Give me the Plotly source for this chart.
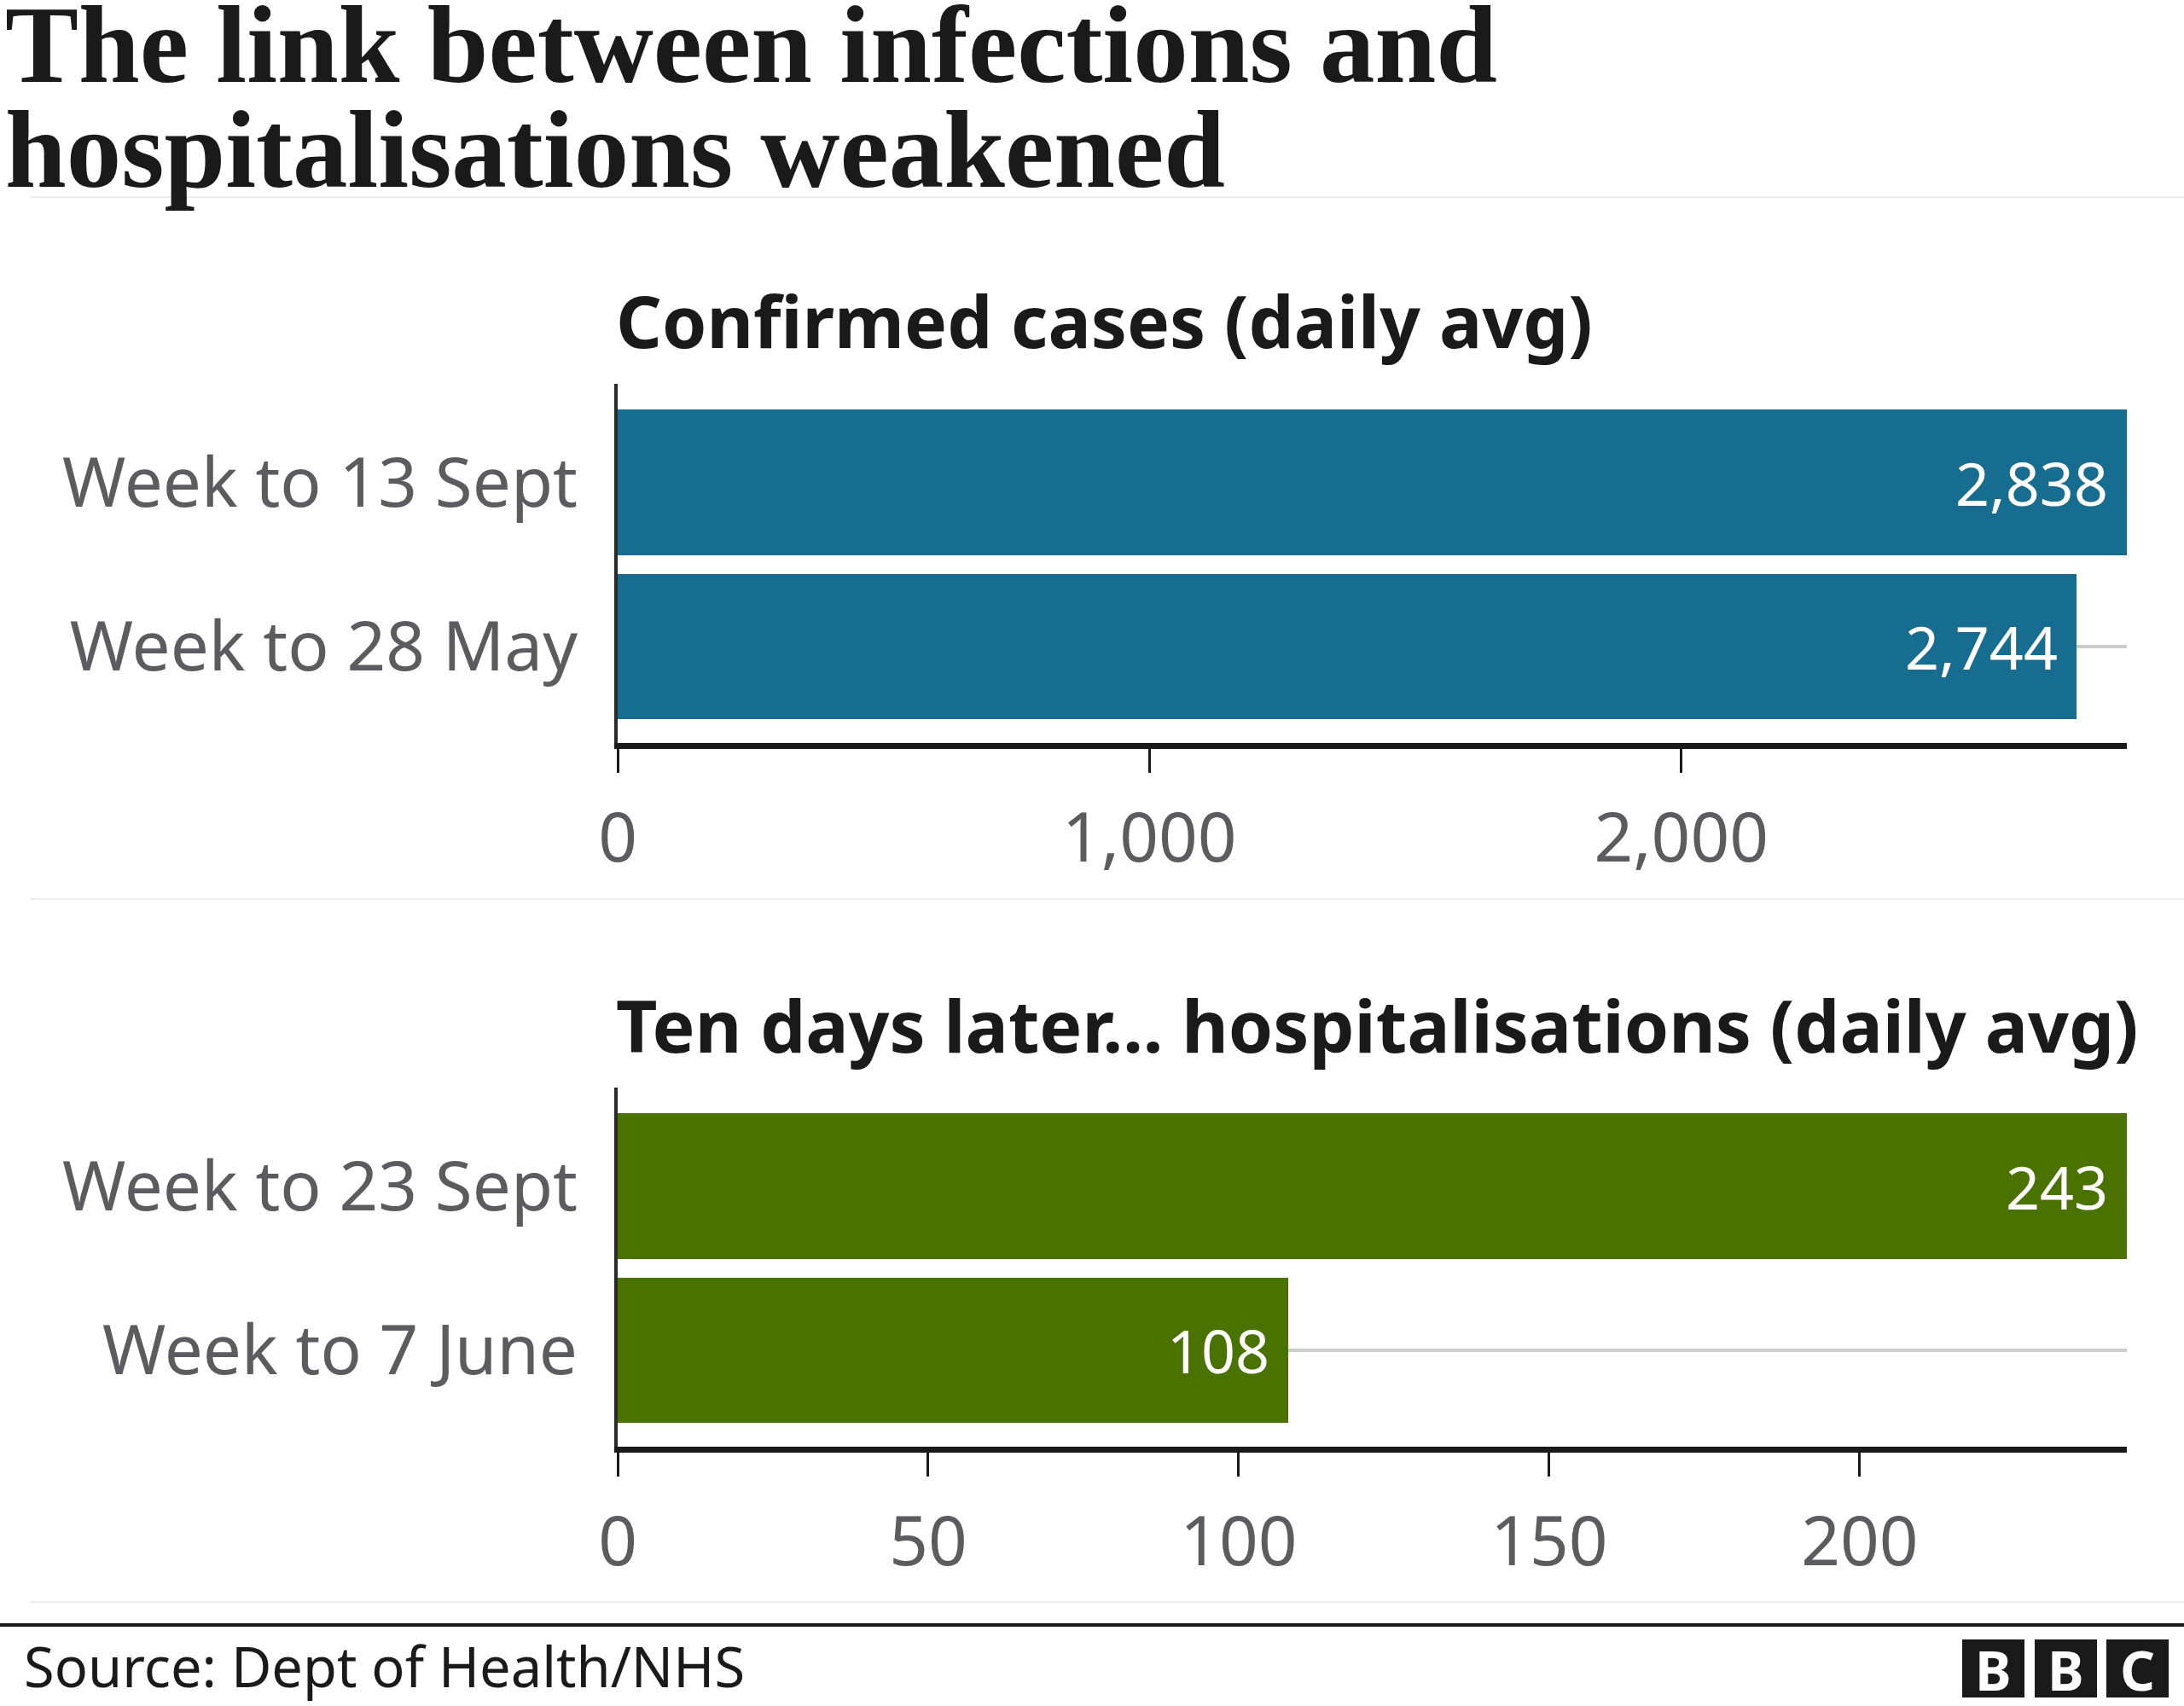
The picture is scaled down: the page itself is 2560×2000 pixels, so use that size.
import plotly.graph_objects as go

W, H = 2560, 2000

# ---------------- data ----------------
title_lines = ["The link between infections and", "hospitalisations weakened"]
source_text = "Source: Dept of Health/NHS"

cases_title = "Confirmed cases (daily avg)"
cases_labels = ["Week to 13 Sept", "Week to 28 May"]
cases_values = [2838, 2744]
cases_ticks = [0, 1000, 2000]

hosp_title = "Ten days later... hospitalisations (daily avg)"
hosp_labels = ["Week to 23 Sept", "Week to 7 June"]
hosp_values = [243, 108]
hosp_ticks = [0, 50, 100, 150, 200]

BLUE = "#176d8f"
GREEN = "#497200"
DARK = "#1a1a1a"
GREY_TXT = "#5b5b60"
SANS = "Noto Sans"
SERIF = "Liberation Serif"


def px(x):
    return x / W


def py(y):
    return 1 - y / H


PLOT_L, PLOT_R = 724, 2493

fig = go.Figure()

fig.add_trace(go.Bar(x=cases_values, y=cases_labels, orientation="h", width=0.888,
                     marker=dict(color=BLUE, line=dict(width=0)),
                     xaxis="x", yaxis="y", hoverinfo="skip"))
fig.add_trace(go.Bar(x=hosp_values, y=hosp_labels, orientation="h", width=0.888,
                     marker=dict(color=GREEN, line=dict(width=0)),
                     xaxis="x2", yaxis="y2", hoverinfo="skip"))

common_x = dict(showgrid=False, zeroline=False, showline=True, linewidth=7, linecolor=DARK,
                ticks="outside", ticklen=28, tickwidth=3, tickcolor=DARK,
                tickfont=dict(family=SANS, size=80, color=GREY_TXT), tickformat=",",
                automargin=False, fixedrange=True, ticklabelstandoff=8)
common_y = dict(type="category", showgrid=True, gridcolor="#cccccc", gridwidth=4,
                zeroline=False, showline=True, linewidth=4, linecolor="#2a2a2a",
                ticks="", tickfont=dict(family=SANS, size=80, color=GREY_TXT),
                automargin=False, fixedrange=True, ticklabelstandoff=27,
                range=[1.587, -0.6])

fig.update_layout(
    xaxis=dict(domain=[px(PLOT_L), px(PLOT_R)], range=[0, max(cases_values)],
               tickvals=cases_ticks, anchor="y", **common_x),
    yaxis=dict(domain=[py(871), py(450)], anchor="x",
               categoryorder="array", categoryarray=cases_labels, **common_y),
    xaxis2=dict(domain=[px(PLOT_L), px(PLOT_R)], range=[0, max(hosp_values)],
                tickvals=hosp_ticks, anchor="y2", **common_x),
    yaxis2=dict(domain=[py(1696), py(1275)], anchor="x2",
                categoryorder="array", categoryarray=hosp_labels, **common_y),
)

annotations = []
# value labels inside bars
for labels, values, xr, yr in [(cases_labels, cases_values, "x", "y"),
                               (hosp_labels, hosp_values, "x2", "y2")]:
    for lab, v in zip(labels, values):
        annotations.append(dict(x=v, y=lab, xref=xr, yref=yr, text=f"{v:,}",
                                showarrow=False, xanchor="right", yanchor="middle",
                                xshift=-20, font=dict(family=SANS, size=70, color="white")))

# main title (two lines)
for txt, yc in zip(title_lines, [53, 175]):
    annotations.append(dict(x=px(4), y=py(yc), xref="paper", yref="paper", text=f"<b>{txt}</b>",
                            showarrow=False, xanchor="left", yanchor="middle",
                            font=dict(family=SERIF, size=129, color=DARK)))

# panel titles
for txt, yc in [(cases_title, 376), (hosp_title, 1201)]:
    annotations.append(dict(x=px(720), y=py(yc), xref="paper", yref="paper", text=f"<b>{txt}</b>",
                            showarrow=False, xanchor="left", yanchor="middle",
                            font=dict(family=SANS, size=84, color=DARK)))

# source
annotations.append(dict(x=px(26), y=py(1953), xref="paper", yref="paper", text=source_text,
                        showarrow=False, xanchor="left", yanchor="middle",
                        font=dict(family=SANS, size=65, color=DARK)))

shapes = []
for yy in [231, 1054, 1878]:
    shapes.append(dict(type="line", xref="paper", yref="paper", x0=px(36), x1=px(W),
                       y0=py(yy), y1=py(yy), line=dict(color="#ebebeb", width=2)))
shapes.append(dict(type="line", xref="paper", yref="paper", x0=0, x1=1,
                   y0=py(1905), y1=py(1905), line=dict(color=DARK, width=4)))

# BBC logo blocks
for x0, letter in zip([2300, 2385, 2469], ["B", "B", "C"]):
    shapes.append(dict(type="rect", xref="paper", yref="paper", x0=px(x0), x1=px(x0 + 73),
                       y0=py(1990), y1=py(1922), fillcolor=DARK, line=dict(width=0)))
    annotations.append(dict(x=px(x0 + 36.5), y=py(1957), xref="paper", yref="paper", text=f"<b>{letter}</b>",
                            showarrow=False, xanchor="center", yanchor="middle",
                            font=dict(family=SANS, size=64, color="white")))

fig.update_layout(
    width=W, height=H, template="none",
    margin=dict(l=0, r=0, t=0, b=0, pad=0),
    paper_bgcolor="white", plot_bgcolor="white",
    showlegend=False, bargap=0,
    annotations=annotations, shapes=shapes,
    font=dict(family=SANS, color=DARK),
)

fig.write_html("out.html", config={"displayModeBar": False},
               post_script="document.body.style.margin='0';document.body.style.overflow='hidden';")
